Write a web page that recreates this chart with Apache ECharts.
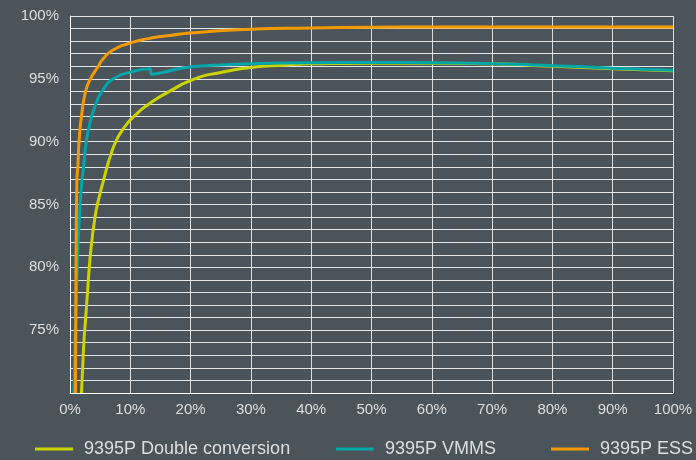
<!DOCTYPE html>
<html>
<head>
<meta charset="utf-8">
<script src="https://cdn.jsdelivr.net/npm/echarts@6/dist/echarts.min.js"></script>
<style>
html,body{margin:0;padding:0;background:#4c545b;}
#c{width:696px;height:460px;}
</style>
</head>
<body>
<div id="c"></div>
<script>
// Data (load % vs efficiency %)
var seriesNames = ['9395P Double conversion', '9395P VMMS', '9395P ESS'];

var dcLoad = [1.9, 2.1, 2.3, 2.6, 2.9, 3.2, 3.6, 4.15, 4.55, 5.05, 5.6, 6.15, 6.8, 7.6, 8.8, 10.6, 13.1, 16.5, 20.7, 25, 30, 36, 40, 50, 60, 70, 80, 90, 100];
var dcEff  = [70, 72, 74, 76, 78, 80, 82, 84, 85, 86, 87, 88, 89, 90, 91, 92, 93, 94, 95, 95.5, 95.9, 96.1, 96.2, 96.25, 96.25, 96.2, 96.0, 95.8, 95.65];

var vmmsLoad = [0.65, 0.8, 0.95, 1.2, 1.45, 1.9, 2.25, 2.45, 2.7, 3.1, 3.6, 4.3, 5.3, 7.2, 10.2, 13.2, 13.6, 15.7, 20, 25, 30, 40, 50, 60, 70, 80, 90, 100];
var vmmsEff  = [70, 73, 76, 80, 83, 86.5, 88, 89, 90, 91, 92, 93, 94, 95, 95.55, 95.8, 95.37, 95.55, 95.95, 96.1, 96.2, 96.28, 96.3, 96.28, 96.2, 96.05, 95.85, 95.68];

var essLoad = [0.9, 1.0, 1.15, 1.3, 1.5, 1.9, 2.6, 3.4, 4.7, 5.3, 7, 10, 13, 16.6, 20, 30, 40, 50, 60, 70, 80, 90, 100];
var essEff  = [70, 80, 87, 88, 90, 92, 94, 95, 96, 96.47, 97.25, 97.85, 98.2, 98.45, 98.65, 98.95, 99.05, 99.1, 99.12, 99.12, 99.12, 99.12, 99.12];

var xTicks = [0, 10, 20, 30, 40, 50, 60, 70, 80, 90, 100];
var yLabels = [75, 80, 85, 90, 95, 100];

var colors = ['#cbd300', '#00a6a8', '#f39a00'];

function pairs(xs, ys) { return xs.map(function (x, i) { return [x, ys[i]]; }); }

var FONT = 'Liberation Sans';
var chart = echarts.init(document.getElementById('c'), null, {renderer: 'canvas'});

function legendAt(name, left) {
  return {
    data: [name], left: left, top: 435, itemWidth: 38, itemHeight: 3,
    icon: 'rect', itemGap: 0,
    textStyle: {color: '#dcdfe1', fontSize: 18, fontFamily: FONT, padding: [0, 0, 0, 6]}
  };
}

chart.setOption({
  backgroundColor: '#4c545b',
  animation: false,
  color: colors,
  grid: {left: 70, right: 23, top: 16, bottom: 67, containLabel: false},
  legend: [legendAt(seriesNames[0], 30), legendAt(seriesNames[1], 331), legendAt(seriesNames[2], 546)],
  xAxis: {
    type: 'value', min: 0, max: 100, interval: 10,
    axisLine: {show: true, lineStyle: {color: '#ffffff', width: 1}},
    axisTick: {show: false},
    axisLabel: {color: '#dcdfe1', fontSize: 15, fontFamily: FONT, margin: 9,
      formatter: function (v) { return xTicks.indexOf(v) >= 0 ? v + '%' : ''; }},
    splitLine: {show: true, lineStyle: {color: 'rgba(255,255,255,0.8)', width: 1}}
  },
  yAxis: {
    type: 'value', min: 70, max: 100, interval: 1,
    axisLine: {show: true, lineStyle: {color: 'rgba(255,255,255,0.8)', width: 1}},
    axisTick: {show: false},
    axisLabel: {color: '#dcdfe1', fontSize: 15, fontFamily: FONT, margin: 11,
      formatter: function (v) { return yLabels.indexOf(v) >= 0 ? v + '%' : ''; }},
    splitLine: {show: true, lineStyle: {color: 'rgba(255,255,255,0.85)', width: 1}}
  },
  series: [
    {name: seriesNames[0], type: 'line', data: pairs(dcLoad, dcEff), showSymbol: false, smooth: 0.6, lineStyle: {width: 3}, clip: true},
    {name: seriesNames[1], type: 'line', data: pairs(vmmsLoad, vmmsEff), showSymbol: false, smooth: 0.6, lineStyle: {width: 3}, clip: true},
    {name: seriesNames[2], type: 'line', data: pairs(essLoad, essEff), showSymbol: false, smooth: 0.6, lineStyle: {width: 3}, clip: true}
  ]
});
</script>
</body>
</html>
